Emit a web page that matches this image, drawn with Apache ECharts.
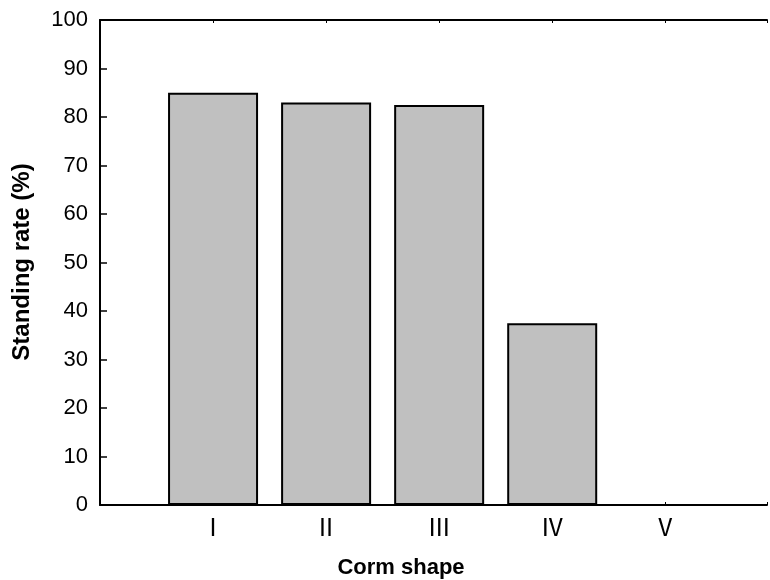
<!DOCTYPE html>
<html>
<head>
<meta charset="utf-8">
<script src="https://cdn.jsdelivr.net/npm/echarts@6/dist/echarts.min.js"></script>
<style>
  html, body { margin: 0; padding: 0; background: #fff; }
  #chart { width: 770px; height: 580px; }
</style>
</head>
<body>
<div id="chart"></div>
<script>
const categories = ['Ⅰ', 'Ⅱ', 'Ⅲ', 'Ⅳ', 'Ⅴ'];
const standingRate = [85, 83, 82.5, 37.5, 0];
const yTicks = [0, 10, 20, 30, 40, 50, 60, 70, 80, 90, 100];
const xTitle = 'Corm shape';
const yTitle = 'Standing rate (%)';

const chart = echarts.init(document.getElementById('chart'), null, { renderer: 'canvas' });
const FONT = 'Liberation Sans, Arial, sans-serif';
const barData = standingRate.map((v, i) => [i + 1, v]);
// visible part of the x range (the frame runs past the right edge of the picture)
const X_MAX = 5.9;

chart.setOption({
  animation: false,
  backgroundColor: '#fff',
  grid: { left: 100, right: 0, top: 20, bottom: 75 },
  xAxis: [
    {
      type: 'value', min: 0, max: X_MAX, interval: 1,
      position: 'bottom',
      axisLine: { show: true, onZero: false, lineStyle: { color: '#000', width: 2 } },
      axisTick: { show: true, inside: true, length: 3, lineStyle: { color: '#000', width: 1 } },
      axisLabel: {
        color: '#000', fontSize: 24, fontFamily: 'Noto Sans CJK SC, sans-serif', margin: 10,
        formatter: v => categories[v - 1] || ''
      },
      splitLine: { show: false }
    },
    {
      type: 'value', min: 0, max: X_MAX, interval: 1,
      position: 'top',
      axisLine: { show: true, onZero: false, lineStyle: { color: '#000', width: 2 } },
      axisTick: { show: true, inside: true, length: 3, lineStyle: { color: '#000', width: 1 } },
      axisLabel: { show: false },
      splitLine: { show: false }
    }
  ],
  yAxis: [
    {
      type: 'value', min: yTicks[0], max: yTicks[yTicks.length - 1], interval: 10,
      axisLine: { show: true, onZero: false, lineStyle: { color: '#000', width: 2 } },
      axisTick: { show: true, inside: true, length: 7, lineStyle: { color: '#000', width: 1.5 } },
      axisLabel: { color: '#000', fontSize: 22, fontFamily: FONT, margin: 12 },
      splitLine: { show: false }
    }
  ],
  series: [{
    type: 'bar',
    data: barData,
    barWidth: 90,
    itemStyle: { color: '#C0C0C0', borderColor: '#000', borderWidth: 2 }
  }],
  graphic: [
    {
      type: 'text', x: 401, y: 568,
      style: { text: xTitle, fontSize: 22, fontWeight: 'bold', fontFamily: FONT, fill: '#000',
               textAlign: 'center', textVerticalAlign: 'middle' }
    },
    {
      type: 'text', x: 22, y: 262, rotation: Math.PI / 2,
      style: { text: yTitle, fontSize: 24, fontWeight: 'bold', fontFamily: FONT, fill: '#000',
               textAlign: 'center', textVerticalAlign: 'middle' }
    }
  ]
});
</script>
</body>
</html>
